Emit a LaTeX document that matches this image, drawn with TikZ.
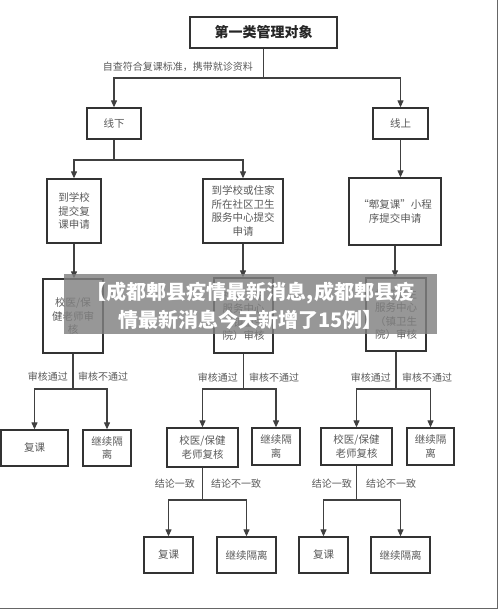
\documentclass[tikz,border=0pt]{standalone}
\usepackage{fontspec}
\newfontfamily\cjk{Noto Sans CJK SC}
\usetikzlibrary{arrows.meta,positioning}

\begin{document}
\begin{tikzpicture}[x=1pt,y=-1pt,>={Triangle[length=7pt,width=6pt]},
  box/.style={draw=black!80,line width=1.3pt,align=center,inner sep=0pt,
    font=\cjk\fontsize{10.5}{13.5}\selectfont,text=black!65},
  link/.style={->,draw=black!75,line width=1.1pt},
  tag/.style={font=\cjk\fontsize{10}{12}\selectfont,text=black!65,inner sep=0pt}]

% page size
\useasboundingbox (0,0) rectangle (500,610);

% ===== TOP =====
\node[box,minimum width=147pt,minimum height=31pt,text=black!85,
  font=\cjk\bfseries\fontsize{14}{16}\selectfont] (top) at (263.5,32.5) {第一类管理对象};
\node[box,minimum width=54pt,minimum height=31pt] (offline) at (114,123.5) {线下};
\node[box,minimum width=55pt,minimum height=31pt] (online) at (400.5,123.5) {线上};

\coordinate (split0) at (263.5,78);
\draw[link] (top.south) -- (split0) -| (offline.north);
\draw[link] (split0) -| (online.north);
\node[tag,anchor=east] (selfcheck) at (253,67) {自查符合复课标准，携带就诊资料};

% ===== APPLICATION =====
\node[box,minimum width=54pt,minimum height=64pt] (applyschool) at (74,211) {到学校\\提交复\\课申请};
\node[box,minimum width=80pt,minimum height=64pt] (applycomm) at (243,211) {到学校或住家\\所在社区卫生\\服务中心提交\\申请};
\node[box,minimum width=92pt,minimum height=67pt] (applyapp) at (395,211.5) {“郫复课”小程\\序提交申请};

\coordinate (split1) at (114,160);
\draw[link] (offline.south) -- (split1) -| (applyschool.north);
\draw[link] (split1) -| (applycomm.north);
\draw[link] (online.south) -- (online.south |- applyapp.north);

% ===== FIRST CHECK =====
\node[box,minimum width=60pt,minimum height=74pt] (checkschool) at (73,316) {校医/保\\健老师审\\核};
\node[box,minimum width=59pt,minimum height=75pt] (checkcomm) at (243.5,315.5) {社区卫生\\服务中心\\（镇卫生\\院）审核};
\node[box,minimum width=60pt,minimum height=73pt] (checkapp) at (396,314.5) {社区卫生\\服务中心\\（镇卫生\\院）审核};

\draw[link] (applyschool.south) -- (applyschool.south |- checkschool.north);
\draw[link] (applycomm.south) -- (applycomm.south |- checkcomm.north);
\draw[link] (applyapp.south) -- (applyapp.south |- checkapp.north);

% ===== LEFT BRANCH =====
\node[box,minimum width=67pt,minimum height=36pt] (backA) at (34.5,448) {复课};
\node[box,minimum width=48pt,minimum height=36pt] (stayA) at (107,448) {继续隔\\离};
\coordinate (split2) at (73,389);
\draw[link] (checkschool.south) -- (split2) -| (backA.north);
\draw[link] (split2) -| (stayA.north);
\node[tag,anchor=east] (passA) at (68,377) {审核通过};
\node[tag,anchor=west] (failA) at (78,377) {审核不通过};

% ===== MIDDLE BRANCH =====
\node[box,minimum width=71pt,minimum height=39pt] (recheckB) at (202.5,447.5) {校医/保健\\老师复核};
\node[box,minimum width=48pt,minimum height=37pt] (stayB) at (276,446.5) {继续隔\\离};
\coordinate (split3) at (243.5,389);
\draw[link] (checkcomm.south) -- (split3) -| (recheckB.north);
\draw[link] (split3) -| (stayB.north);
\node[tag,anchor=east] (passB) at (238,378) {审核通过};
\node[tag,anchor=west] (failB) at (249,378) {审核不通过};

\node[box,minimum width=49pt,minimum height=36pt] (backB) at (168.5,555) {复课};
\node[box,minimum width=59pt,minimum height=36pt] (stayBB) at (246.5,555) {继续隔离};
\coordinate (split4) at (202.5,500);
\draw[link] (recheckB.south) -- (split4) -| (backB.north);
\draw[link] (split4) -| (stayBB.north);
\node[tag,anchor=east] (sameB) at (195,484) {结论一致};
\node[tag,anchor=west] (diffB) at (211,484) {结论不一致};

% ===== RIGHT BRANCH =====
\node[box,minimum width=71pt,minimum height=37pt] (recheckC) at (356.5,446.5) {校医/保健\\老师复核};
\node[box,minimum width=47pt,minimum height=37pt] (stayC) at (430.5,446.5) {继续隔\\离};
\coordinate (split5) at (396,389);
\draw[link] (checkapp.south) -- (split5) -| (recheckC.north);
\draw[link] (split5) -| (stayC.north);
\node[tag,anchor=east] (passC) at (391,378) {审核通过};
\node[tag,anchor=west] (failC) at (402,378) {审核不通过};

\node[box,minimum width=49pt,minimum height=36pt] (backC) at (323.5,555) {复课};
\node[box,minimum width=59pt,minimum height=36pt] (stayCC) at (400.5,555) {继续隔离};
\coordinate (split6) at (356.5,500);
\draw[link] (recheckC.south) -- (split6) -| (backC.north);
\draw[link] (split6) -| (stayCC.north);
\node[tag,anchor=east] (sameC) at (352,484) {结论一致};
\node[tag,anchor=west] (diffC) at (366,484) {结论不一致};

% ===== BANNER =====
\fill[black!50,fill opacity=0.82] (64,274) rectangle (437,334);
\node[align=center,text=white,inner sep=0pt,
  font=\cjk\bfseries\fontsize{20}{28}\selectfont] (banner) at (250.5,305.5)
  {【成都郫县疫情最新消息,成都郫县疫\\情最新消息今天新增了15例】};

% frame
\draw[black!60,line width=0.8pt] (0,608) -- (497,608) -- (497,0);

\end{tikzpicture}
\end{document}
